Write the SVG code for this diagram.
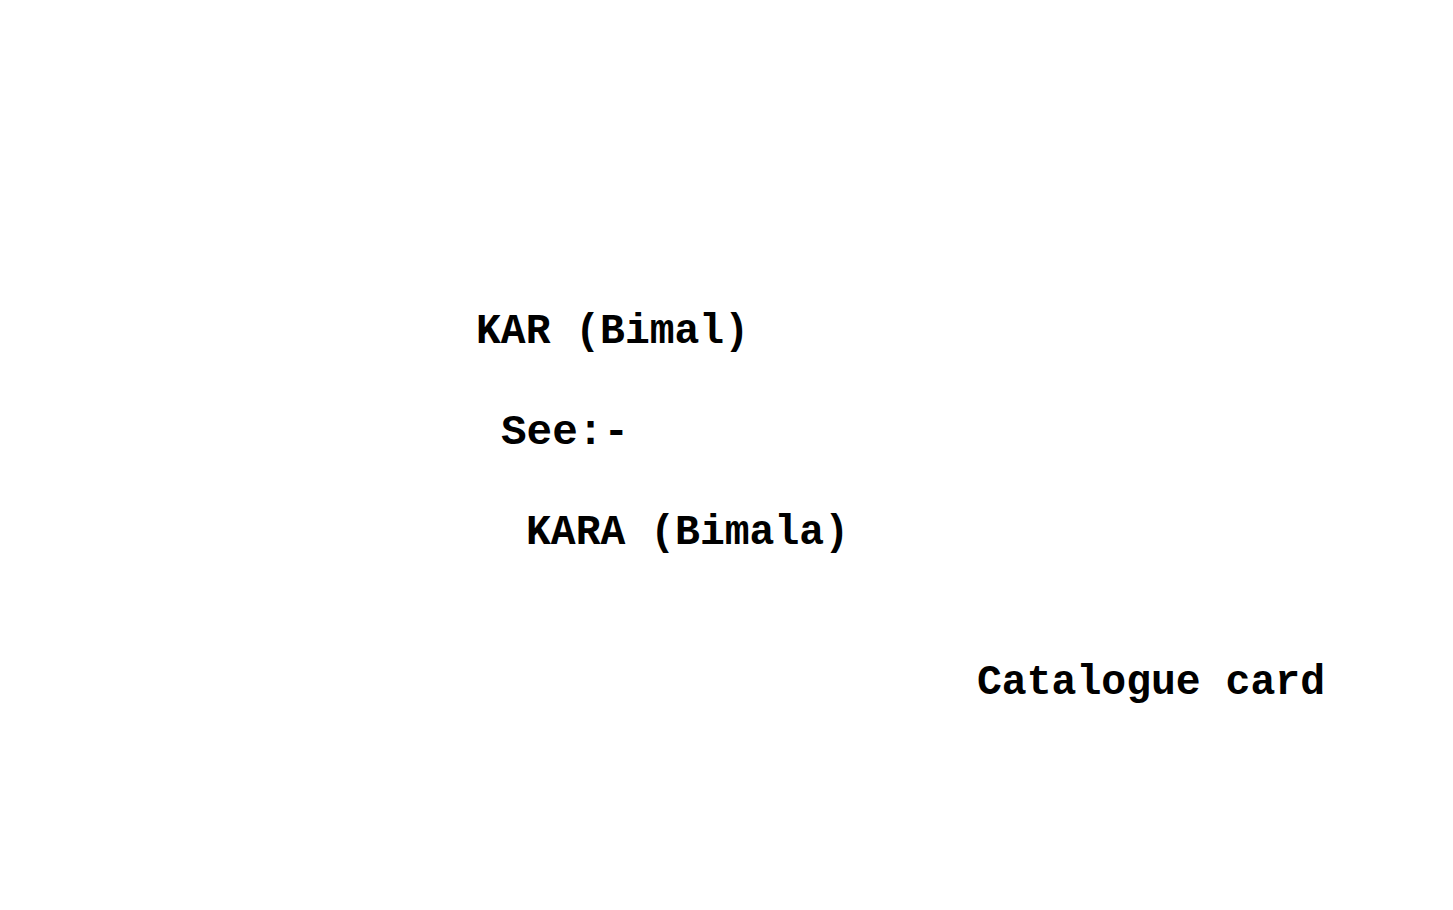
<svg xmlns="http://www.w3.org/2000/svg" width="1453" height="910" viewBox="0 0 1453 910">
<style>
.t{font-family:"Liberation Mono","Courier New",monospace;font-weight:bold;font-size:42px;fill:#000}
</style>
<rect width="1453" height="910" fill="#fff"/>
<g id="heading"><text class="t" x="476" y="343" textLength="273" lengthAdjust="spacingAndGlyphs">KAR (Bimal)</text></g>
<g id="see"><text class="t" x="501" y="444" textLength="128" lengthAdjust="spacingAndGlyphs">See:-</text></g>
<g id="target"><text class="t" x="526" y="544" textLength="323" lengthAdjust="spacingAndGlyphs">KARA (Bimala)</text></g>
<g id="caption"><text class="t" x="977" y="694" textLength="348" lengthAdjust="spacingAndGlyphs">Catalogue card</text></g>
</svg>
